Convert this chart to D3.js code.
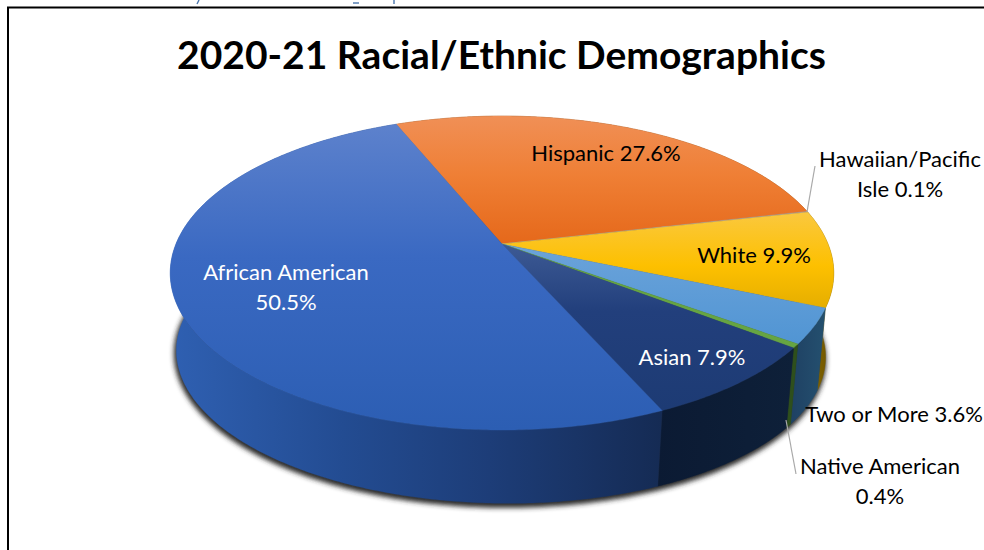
<!DOCTYPE html>
<html>
<head>
<meta charset="utf-8">
<script src="https://cdn.jsdelivr.net/npm/d3@7"></script>
<style>
html,body{margin:0;padding:0;background:#fff;overflow:hidden}
svg{display:block}
text{font-family:Lato,"Open Sans",sans-serif}
</style>
</head>
<body>
<script>
const titleText = "2020-21 Racial/Ethnic Demographics";
const categories = ["Hispanic","Hawaiian/Pacific Isle","White","Two or More","Native American","Asian","African American"];
const values = [27.6,0.1,9.9,3.6,0.4,7.9,50.5];
const labelLines = [["Hispanic 27.6%"],["Hawaiian/Pacific","Isle 0.1%"],["White 9.9%"],["Two or More 3.6%"],["Native American","0.4%"],["Asian 7.9%"],["African American","50.5%"]];

const W=984,H=550;
const svg=d3.select("body").append("svg").attr("width",W).attr("height",H);
const defs=svg.append("defs");

// perspective disc projection
const K=0.185;
const topDisc={cx:502,cy:244,R:326,S:151.6,tilt:0};
const botDisc={cx:501,cy:326,R:319,S:144.5,tilt:0.01};
function project(d,a){
  const u=Math.sin(a),v=-Math.cos(a),w=1-K*v;
  const x=d.cx+d.R*u/w;
  return [x,d.cy+d.S*v/w+d.tilt*(x-d.cx)];
}
function arcPts(d,a0,a1){const n=Math.max(2,Math.ceil((a1-a0)/0.01));return d3.range(n+1).map(i=>project(d,a0+(a1-a0)*i/n));}

const start=-22.3*Math.PI/180;
const pie=d3.pie().sort(null).startAngle(start).endAngle(start+2*Math.PI);
const arcs=pie(values);
const line=d3.line();

function grad(id,horizontal,a,b,stops){
  const g=defs.append("linearGradient").attr("id",id).attr("gradientUnits","userSpaceOnUse")
   .attr("x1",horizontal?a:0).attr("x2",horizontal?b:0).attr("y1",horizontal?0:a).attr("y2",horizontal?0:b);
  stops.forEach(s=>g.append("stop").attr("offset",s[0]).attr("stop-color",s[1]));
  return `url(#${id})`;
}
const faceFills=[
 grad("f0",false,118,245,[[0,"#f08f55"],[0.45,"#ef7f35"],[1,"#e5681a"]]),
 "#a5a5a5",
 grad("f2",false,212,310,[[0,"#fac83f"],[0.55,"#fdc000"],[1,"#e4ad00"]]),
 grad("f3",false,245,350,[[0,"#6ba3da"],[1,"#4f94d3"]]),
 "#66a542",
 grad("f5",false,245,410,[[0,"#3d5a94"],[0.4,"#223f7c"],[1,"#1d3b74"]]),
 grad("f6",false,116,430,[[0,"#5f83cd"],[0.45,"#3a69c2"],[1,"#2c5eb3"]])
];
const wallFills=[
 "#8a4a12","#777",
 grad("w2",true,805,835,[[0,"#8a6a00"],[1,"#6a5200"]]),
 grad("w3",true,787,825,[[0,"#1e3f62"],[1,"#24506f"]]),
 "#2e4f1c",
 grad("w5",true,655,795,[[0,"#0b1a33"],[1,"#0e2039"]]),
 grad("w6",true,170,662,[[0,"#2f60b2"],[0.35,"#234c92"],[0.65,"#1d3d78"],[1,"#152b54"]])
];

// shadow
const blur=defs.append("filter").attr("id","blur").attr("x","-10%").attr("y","-10%").attr("width","120%").attr("height","120%");
blur.append("feGaussianBlur").attr("stdDeviation",2.6);
svg.append("path")
 .attr("d",line(arcPts(botDisc,0,2*Math.PI))+"Z")
 .attr("transform","translate(-1,3)")
 .attr("fill","#2b2b2b").attr("stroke","#2b2b2b").attr("stroke-width",3)
 .attr("filter","url(#blur)");

// outer walls
arcs.forEach((d,i)=>{
  const a0=d.startAngle,a1=d.endAngle;
  const t=arcPts(topDisc,a0,a1),b=arcPts(botDisc,a0,a1).reverse();
  svg.append("path").attr("d",line(t.concat(b))+"Z").attr("fill",wallFills[i]).attr("stroke",wallFills[i]).attr("stroke-width",0.4);
});

// top faces
arcs.forEach((d,i)=>{
  const pts=[[topDisc.cx,topDisc.cy]].concat(arcPts(topDisc,d.startAngle,d.endAngle));
  svg.append("path").attr("d",line(pts)+"Z").attr("fill",faceFills[i]).attr("stroke",faceFills[i]).attr("stroke-width",0.4);
});

// leaders
const leaders=[[[807,212],[815,166]],[[786,420],[796,474]]];
leaders.forEach(l=>svg.append("path").attr("d",line(l)).attr("fill","none").attr("stroke","#a9a9a9").attr("stroke-width",1.2));

// frame
svg.append("path").attr("d","M984,7.5H8V550").attr("fill","none").attr("stroke","#000").attr("stroke-width",2);

// specks above the frame: descender remnants of a cropped line, too small to read
[[[199,0],[197,4]],[[353,3],[359,3]],[[394,0],[394,4]]].forEach(s=>svg.append("path").attr("d",line(s)).attr("fill","none").attr("stroke","#4a76ad").attr("stroke-width",1.4));

// title
svg.append("text").text(titleText).attr("x",501.5).attr("y",69).attr("text-anchor","middle")
 .attr("font-size",39).attr("font-weight",700).attr("fill","#000");

// labels
const labelPos=[[606,161],[900,167],[754,263],[894,422],[880,474],[692,365],[286,280]];
const labelColor=["#000","#000","#000","#000","#000","#fff","#fff"];
arcs.forEach((d,i)=>{
  labelLines[i].forEach((s,j)=>{
    svg.append("text").text(s).attr("x",labelPos[i][0]).attr("y",labelPos[i][1]+j*30)
     .attr("text-anchor","middle").attr("font-size",22).attr("fill",labelColor[i]);
  });
});
</script>
</body>
</html>
